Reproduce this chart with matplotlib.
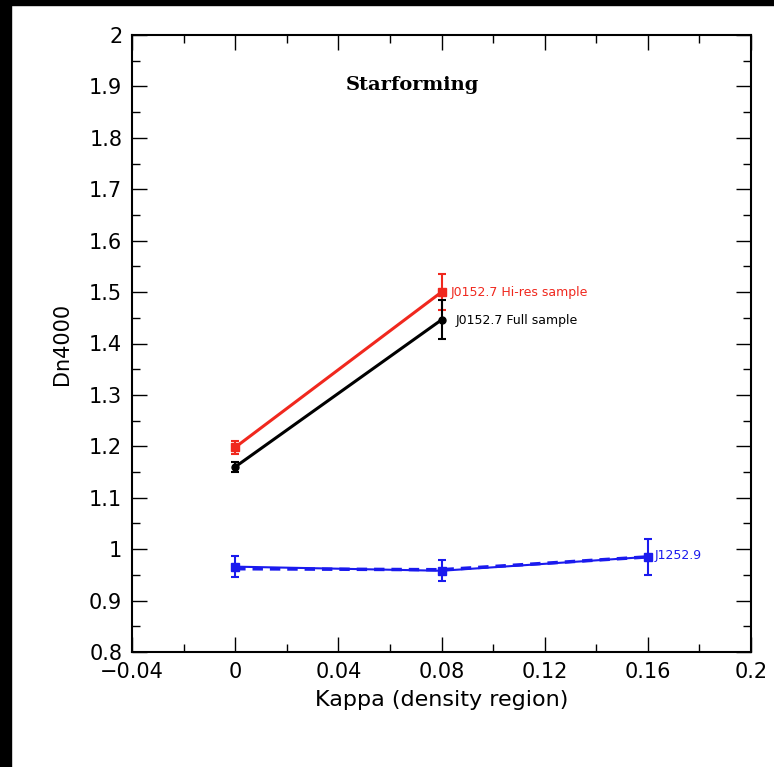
import matplotlib.pyplot as plt
from matplotlib.ticker import MultipleLocator, FuncFormatter

# data
kappa_j0152 = [0.0, 0.08]
dn_hires = [1.198, 1.500]
err_hires = [0.012, 0.035]
dn_full = [1.160, 1.446]
err_full = [0.010, 0.038]

kappa_j1252 = [0.0, 0.08, 0.16]
dn_j1252 = [0.966, 0.958, 0.985]
err_j1252 = [0.020, 0.020, 0.035]
dn_j1252_b = [0.962, 0.960, 0.985]

fig = plt.figure(figsize=(7.74, 7.67), dpi=100)
fig.patch.set_facecolor("white")
# black frame strips of the scanned picture
fig.add_artist(plt.Rectangle((0, 0), 11 / 774, 1, transform=fig.transFigure, color="black", zorder=10))
fig.add_artist(plt.Rectangle((0, 1 - 5 / 767), 1, 5 / 767, transform=fig.transFigure, color="black", zorder=10))

ax = fig.add_axes([132 / 774, 1 - 652 / 767, (751 - 132) / 774, (652 - 35) / 767])

ax.errorbar(kappa_j0152, dn_hires, yerr=err_hires, color="#f0281e", lw=2.2, marker="s", ms=6,
            capsize=3, elinewidth=1.5, capthick=1.5)
ax.errorbar(kappa_j0152, dn_full, yerr=err_full, color="black", lw=2.2, marker="o", ms=5,
            capsize=3, elinewidth=1.5, capthick=1.5)
ax.errorbar(kappa_j1252, dn_j1252, yerr=err_j1252, color="#1a1aee", lw=1.5, marker="s", ms=6,
            capsize=3, elinewidth=1.5, capthick=1.5)
ax.plot(kappa_j1252, dn_j1252_b, color="#1a1aee", lw=2.5, ls=(0, (3, 2)))

ax.text(0.0835, 1.500, "J0152.7 Hi-res sample", color="#f0281e", fontsize=9, va="center", ha="left")
ax.text(0.0855, 1.444, "J0152.7 Full sample", color="black", fontsize=9, va="center", ha="left")
ax.text(0.1628, 0.987, "J1252.9", color="#1a1aee", fontsize=9, va="center", ha="left")

ax.text(0.0686, 1.903, "Starforming", fontsize=14, fontweight="bold", family="DejaVu Serif",
        ha="center", va="center")

ax.set_xlim(-0.04, 0.2)
ax.set_ylim(0.8, 2.0)
ax.xaxis.set_major_locator(MultipleLocator(0.04))
ax.xaxis.set_minor_locator(MultipleLocator(0.02))
ax.yaxis.set_major_locator(MultipleLocator(0.1))
ax.yaxis.set_minor_locator(MultipleLocator(0.05))
fmt = FuncFormatter(lambda v, p: ("%g" % round(v, 3)).replace("-", "\u2212"))
ax.xaxis.set_major_formatter(fmt)
ax.yaxis.set_major_formatter(fmt)
ax.tick_params(which="both", direction="in", top=True, right=True, labelsize=15, width=1)
ax.tick_params(which="major", length=11, pad=7)
ax.tick_params(which="minor", length=6)
for s in ax.spines.values():
    s.set_linewidth(1.5)

ax.set_xlabel("Kappa (density region)", fontsize=16, labelpad=6)
ax.set_ylabel("Dn4000", fontsize=15, labelpad=12)

fig.savefig("out.png", dpi=100)
